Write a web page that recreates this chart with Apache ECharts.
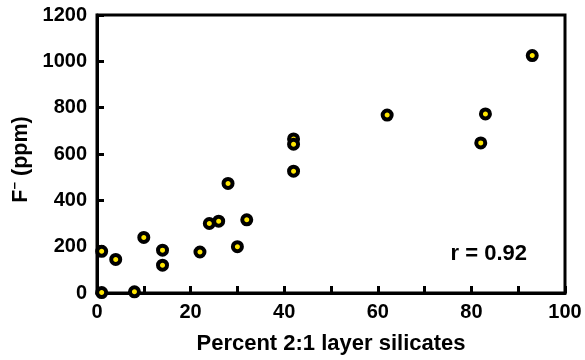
<!DOCTYPE html>
<html>
<head>
<meta charset="utf-8">
<script src="https://cdn.jsdelivr.net/npm/echarts@6/dist/echarts.min.js"></script>
<style>
  html, body { margin: 0; padding: 0; background: #fff; }
  #chart { width: 585px; height: 360px; }
</style>
</head>
<body>
<div id="chart"></div>
<script>
// percent 2:1 layer silicates vs F- (ppm)
var silicates = [1, 1, 4, 8, 10, 14, 14, 22, 24, 26, 28, 30, 32, 42, 42, 42, 62, 82, 83, 93];
var fluoride = [180, 2, 145, 5, 240, 185, 120, 177, 300, 310, 473, 200, 316, 665, 642, 526, 768, 648, 773, 1025];
var xTicks = [0, 20, 40, 60, 80, 100];
var yTicks = [0, 200, 400, 600, 800, 1000, 1200];
var rText = 'r = 0.92';

var points = [];
for (var i = 0; i < silicates.length; i++) {
  points.push([silicates[i], fluoride[i]]);
}

var font = 'Liberation Sans, Arial, Helvetica, sans-serif';

var chart = echarts.init(document.getElementById('chart'));
chart.setOption({
  animation: false,
  // the grid border gives the box frame
  grid: { left: 97, right: 20, top: 15, bottom: 64, show: true, borderColor: '#000', borderWidth: 3 },
  xAxis: {
    type: 'value', min: 0, max: 100, interval: 10,
    axisLine: { show: true, lineStyle: { color: '#000', width: 3 } },
    axisTick: { show: true, inside: true, length: 7, lineStyle: { color: '#000', width: 3 } },
    splitLine: { show: false },
    name: 'Percent 2:1 layer silicates',
    nameLocation: 'middle', nameGap: 40,
    nameTextStyle: { fontFamily: font, fontWeight: 'bold', fontSize: 22, color: '#000' },
    axisLabel: {
      margin: 9, color: '#000', fontFamily: font, fontWeight: 'bold', fontSize: 20,
      formatter: function (v) { return xTicks.indexOf(v) >= 0 ? String(v) : ''; }
    }
  },
  yAxis: {
    type: 'value', min: 0, max: 1200, interval: 200,
    axisLine: { show: true, lineStyle: { color: '#000', width: 3 } },
    axisTick: { show: true, inside: true, length: 7, lineStyle: { color: '#000', width: 3 } },
    splitLine: { show: false },
    name: 'F{sup|−} (ppm)',
    nameLocation: 'middle', nameGap: 62, nameRotate: 90,
    nameTextStyle: {
      fontFamily: font, fontWeight: 'bold', fontSize: 21.5, color: '#000', padding: [0, 11, 0, 0],
      rich: { sup: { fontFamily: font, fontWeight: 'bold', fontSize: 13, color: '#000', verticalAlign: 'top', padding: [0, 0, 10, 0] } }
    },
    axisLabel: {
      margin: 10, color: '#000', fontFamily: font, fontWeight: 'bold', fontSize: 20,
      formatter: function (v) { return yTicks.indexOf(v) >= 0 ? String(v) : ''; }
    }
  },
  graphic: [{
    type: 'text',
    right: 585 - 527,
    top: 243,
    style: { text: rText, fill: '#000', font: 'bold 22px ' + font }
  }],
  series: [{
    type: 'scatter',
    data: points,
    symbol: 'circle',
    symbolSize: 9,
    itemStyle: { color: '#ffe600', borderColor: '#000', borderWidth: 4, opacity: 1 }
  }]
});
</script>
</body>
</html>
